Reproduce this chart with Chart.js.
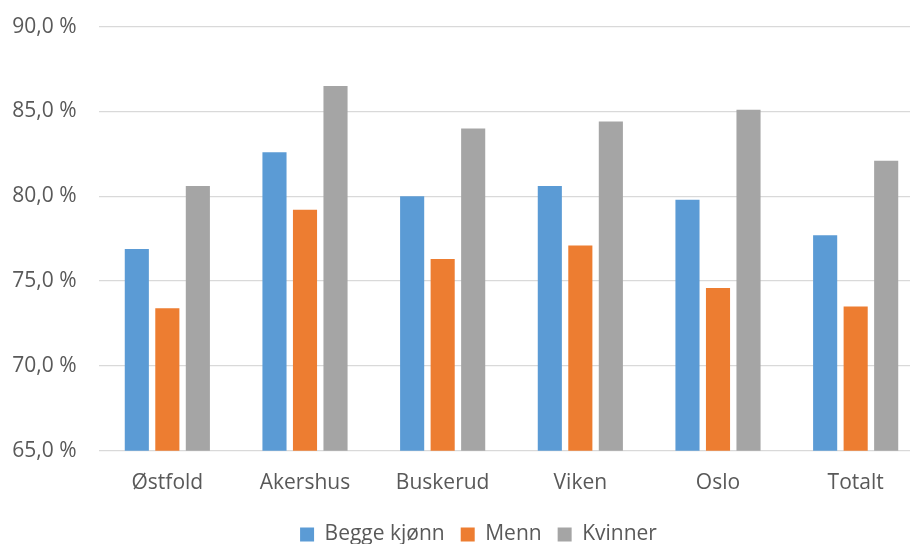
<!DOCTYPE html>
<html>
<head>
<meta charset="utf-8">
<script src="https://cdn.jsdelivr.net/npm/chart.js@4/dist/chart.umd.min.js"></script>
<style>
    html, body { margin: 0; padding: 0; background: #fff; overflow: hidden; }
    #wrap { position: relative; width: 957px; height: 563px; margin-top: -8px; }
</style>
</head>
<body>
<div id="wrap"><canvas id="chart"></canvas></div>
<script>
// Andel per fylke (prosent)
const categories = ['Østfold', 'Akershus', 'Buskerud', 'Viken', 'Oslo', 'Totalt'];
const seriesNames = ['Begge kjønn', 'Menn', 'Kvinner'];
const beggeKjonn = [76.9, 82.6, 80.0, 80.6, 79.8, 77.7];
const menn = [73.4, 79.2, 76.3, 77.1, 74.6, 73.5];
const kvinner = [80.6, 86.5, 84.0, 84.4, 85.1, 82.1];
const yTicks = [65, 70, 75, 80, 85, 90];

const colors = ['#5B9BD5', '#ED7D31', '#A5A5A5'];
const textColor = '#595959';
const fontFamily = '"Open Sans", sans-serif';

Chart.defaults.font.family = fontFamily;
Chart.defaults.color = textColor;

const ctx = document.getElementById('chart');
new Chart(ctx, {
    type: 'bar',
    data: {
        labels: categories,
        datasets: [beggeKjonn, menn, kvinner].map((values, i) => ({
            label: seriesNames[i],
            data: values,
            backgroundColor: colors[i],
            borderWidth: 0,
            categoryPercentage: 0.665,
            barPercentage: 0.79,
            yAxisID: 'y'
        }))
    },
    options: {
        responsive: true,
        maintainAspectRatio: false,
        animation: false,
        layout: { padding: { top: 17, left: 0, right: 0, bottom: 0 } },
        plugins: {
            tooltip: { enabled: false },
            legend: {
                position: 'bottom',
                labels: {
                    boxWidth: 14,
                    boxHeight: 14,
                    padding: 16,
                    font: { size: 21 },
                    color: textColor
                }
            }
        },
        scales: {
            x: {
                grid: { display: false },
                border: { display: false },
                ticks: { font: { size: 21 }, padding: 12, color: textColor }
            },
            y: {
                min: 65,
                max: 90,
                afterBuildTicks: (axis) => {
                    axis.ticks = yTicks.map(v => ({ value: v }));
                },
                afterFit: (axis) => { axis.width = 98.5; },
                grid: { color: '#D9D9D9', lineWidth: 1.3, drawTicks: false },
                border: { display: false },
                ticks: {
                    font: { size: 21 },
                    padding: 22,
                    color: textColor,
                    callback: (v) => v.toFixed(1).replace('.', ',') + ' %'
                }
            },
            yRight: {
                position: 'right',
                display: true,
                grid: { display: false },
                border: { display: false },
                ticks: { display: false },
                afterFit: (axis) => { axis.width = 32.5; }
            }
        }
    }
});
</script>
</body>
</html>
